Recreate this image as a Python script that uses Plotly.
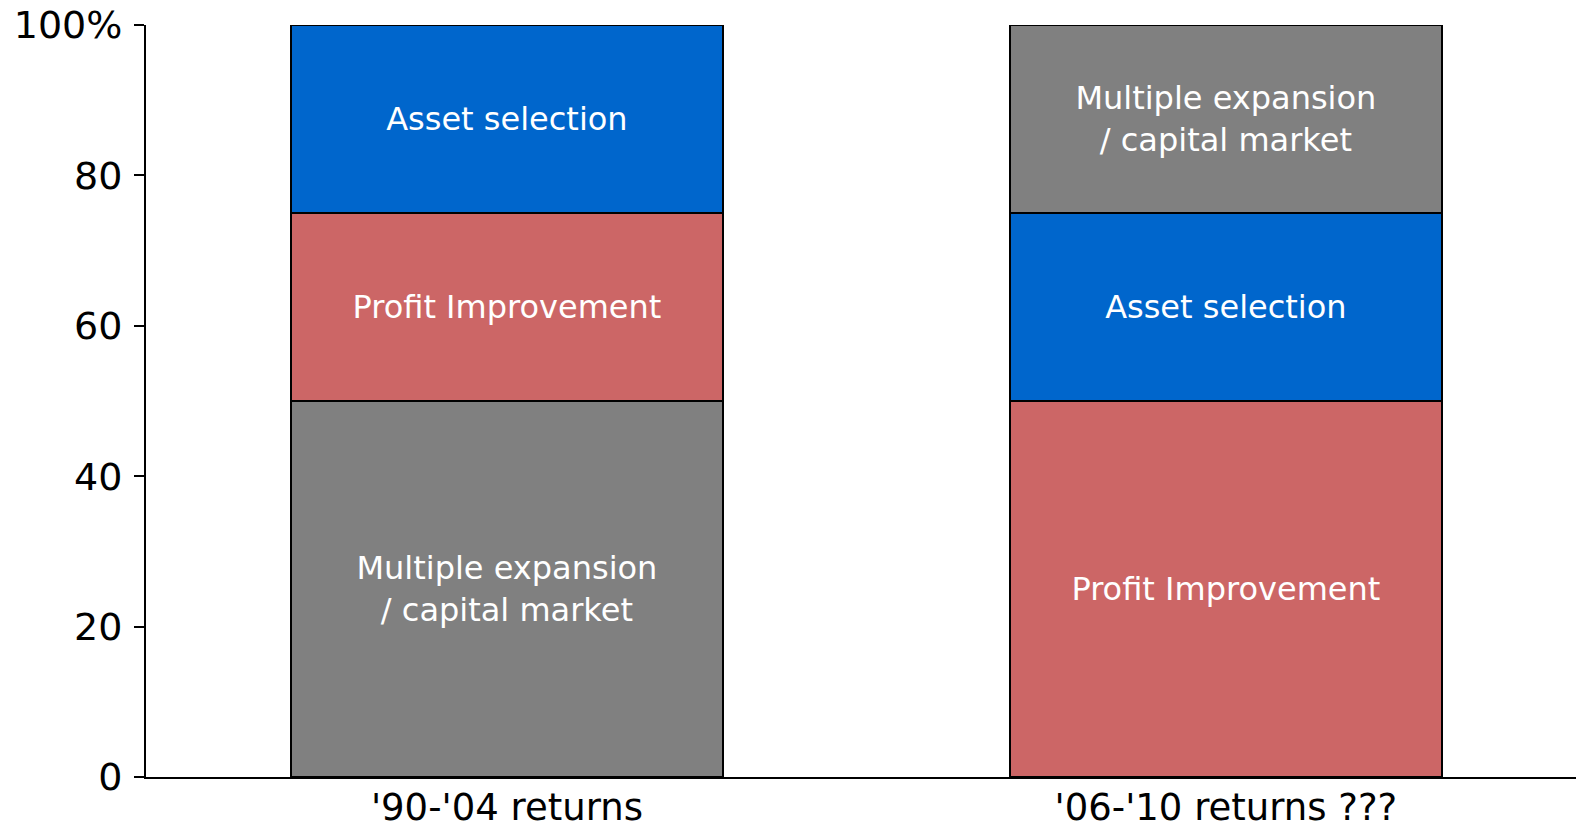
import plotly.graph_objects as go

categories = ["'90-'04 returns", "'06-'10 returns ???"]

# stacks from bottom to top for each category
stack_names_1 = ["Multiple expansion<br>/ capital market", "Profit Improvement", "Asset selection"]
stack_values_1 = [50, 25, 25]
stack_names_2 = ["Profit Improvement", "Asset selection", "Multiple expansion<br>/ capital market"]
stack_values_2 = [50, 25, 25]

y_tickvals = [0, 20, 40, 60, 80, 100]
y_ticktext = ["0", "20", "40", "60", "80", "100%"]

colors = {
    "Multiple expansion<br>/ capital market": "#808080",
    "Profit Improvement": "#CC6666",
    "Asset selection": "#0066CC",
}

stacks = [list(zip(stack_names_1, stack_values_1)), list(zip(stack_names_2, stack_values_2))]

fig = go.Figure()
for layer in range(3):
    names = [s[layer][0] for s in stacks]
    vals = [s[layer][1] for s in stacks]
    fig.add_trace(go.Bar(
        x=categories,
        y=vals,
        text=names,
        texttemplate="%{text}",
        textposition="inside",
        insidetextanchor="middle",
        textangle=0,
        textfont=dict(family="DejaVu Sans", size=32, color="white"),
        marker=dict(color=[colors[n] for n in names], line=dict(color="black", width=2)),
        width=0.6,
        hoverinfo="skip",
        showlegend=False,
    ))

fig.update_layout(
    barmode="stack",
    width=1576,
    height=831,
    margin=dict(l=146, r=0, t=25, b=54, autoexpand=False),
    paper_bgcolor="white",
    plot_bgcolor="white",
    font=dict(family="DejaVu Sans", color="black"),
    uniformtext=dict(minsize=32, mode="show"),
    xaxis=dict(
        type="category",
        range=[-0.502, 1.487],
        automargin=False,
        showline=True, linecolor="black", linewidth=2,
        ticks="", showgrid=False,
        ticklabelstandoff=-3,
        tickfont=dict(size=37, color="black"),
    ),
    yaxis=dict(
        range=[0, 100],
        automargin=False,
        tickvals=y_tickvals,
        ticktext=y_ticktext,
        showline=True, linecolor="black", linewidth=2,
        ticks="outside", ticklen=10, tickwidth=2, tickcolor="black",
        ticklabelstandoff=4,
        showgrid=False, zeroline=False,
        tickfont=dict(size=38, color="black"),
    ),
)

fig.write_html(
    "out.html",
    config={"displayModeBar": False},
    post_script="document.body.style.margin='0px'; document.body.style.overflow='hidden';",
)
